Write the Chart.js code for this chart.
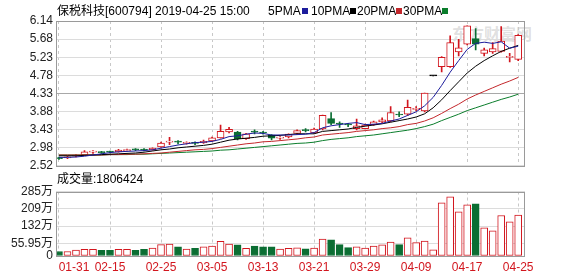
<!DOCTYPE html>
<html>
<head>
<meta charset="utf-8">
<script src="https://cdn.jsdelivr.net/npm/chart.js@4.4.1/dist/chart.umd.min.js"></script>
<style>
  body { margin: 0; background: #fff; width: 578px; height: 276px; overflow: hidden; position: relative;
         font-family: "Liberation Sans", Arial, "Noto Sans CJK SC", sans-serif; }
  canvas { position: absolute; left: 0; }
  #kline { top: 0; }
  #vol { top: 176px; }
  .txt { position: absolute; font-size: 12px; line-height: 14px; color: #000; white-space: nowrap; }
  .sq { position: absolute; width: 6px; height: 6px; }
  .wm { position: absolute; left: 452px; top: 21px; font: bold 16px "Noto Sans CJK SC", sans-serif; color: rgba(150,150,150,0.3); white-space: nowrap; }
</style>
</head>
<body>
<div class="wm">东方财富网</div>
<canvas id="kline" width="578" height="176"></canvas>
<canvas id="vol" width="578" height="100"></canvas>
<div class="txt" style="left:57px;top:4px;">保税科技[600794] 2019-04-25 15:00</div>
<div class="txt" style="left:268px;top:4px;">5PMA</div><div class="sq" style="left:302px;top:8px;background:#1c1c9c;"></div>
<div class="txt" style="left:311px;top:4px;">10PMA</div><div class="sq" style="left:350px;top:8px;background:#000;"></div>
<div class="txt" style="left:357px;top:4px;">20PMA</div><div class="sq" style="left:396px;top:8px;background:#c3272b;"></div>
<div class="txt" style="left:403px;top:4px;">30PMA</div><div class="sq" style="left:442px;top:8px;background:#0a7d2b;"></div>
<div class="txt" style="left:57px;top:172px;">成交量:1806424</div>
<script>
// trading days shown
var dates = ['01-31','02-01','02-11','02-12','02-13','02-14','02-15','02-18','02-19','02-20',
             '02-21','02-22','02-25','02-26','02-27','02-28','03-01','03-04','03-05','03-06',
             '03-07','03-08','03-11','03-12','03-13','03-14','03-15','03-18','03-19','03-20',
             '03-21','03-22','03-25','03-26','03-27','03-28','03-29','04-01','04-02','04-03',
             '04-04','04-08','04-09','04-10','04-11','04-12','04-15','04-16','04-17','04-18',
             '04-19','04-22','04-23','04-24','04-25'];

var opens  = [2.72,2.72,2.76,2.79,2.86,2.87,2.87,2.87,2.90,2.93, 2.93,2.92,2.99,3.11,3.12,3.08,3.10,3.10,3.14,3.22,
              3.37,3.36,3.20,3.38,3.36,3.29,3.21,3.24,3.33,3.41, 3.34,3.44,3.70,3.57,3.55,3.45,3.45,3.55,3.62,3.64,
              3.80,3.81,3.93,3.89,4.77,5.00,5.00,5.37,5.56,5.70, 5.33,5.37,5.38,5.23,5.18];
var highs  = [2.74,2.76,2.80,2.90,2.90,2.88,2.89,2.93,2.94,2.95, 2.95,2.97,3.11,3.23,3.15,3.12,3.12,3.16,3.24,3.54,
              3.48,3.38,3.33,3.42,3.38,3.30,3.25,3.32,3.42,3.45, 3.46,3.79,3.85,3.62,3.58,3.69,3.56,3.64,3.72,4.00,
              3.87,4.16,4.00,4.34,4.77,5.25,5.77,5.68,6.02,5.95, 5.46,5.60,6.00,5.33,5.80];
var lows   = [2.68,2.70,2.74,2.78,2.83,2.83,2.84,2.86,2.89,2.90, 2.89,2.91,2.98,3.05,3.07,3.06,3.05,3.08,3.13,3.21,
              3.34,3.17,3.18,3.32,3.31,3.17,3.18,3.22,3.30,3.37, 3.33,3.42,3.55,3.48,3.50,3.42,3.44,3.53,3.60,3.62,
              3.75,3.78,3.90,3.87,4.77,4.87,4.98,5.27,5.54,5.42, 5.27,5.33,5.36,5.12,5.15];
var closes = [2.70,2.74,2.79,2.87,2.87,2.85,2.86,2.91,2.92,2.92, 2.91,2.96,3.09,3.12,3.11,3.09,3.08,3.13,3.22,3.38,
              3.43,3.20,3.32,3.36,3.34,3.21,3.22,3.31,3.40,3.40, 3.44,3.78,3.58,3.56,3.54,3.52,3.54,3.62,3.67,3.85,
              3.79,3.98,3.94,4.34,4.77,5.23,5.60,5.47,6.02,5.56, 5.42,5.45,5.64,5.24,5.78];

var ma5  = [2.73,2.73,2.74,2.76,2.79,2.82,2.85,2.87,2.88,2.89, 2.90,2.92,2.96,3.00,3.04,3.07,3.10,3.11,3.13,3.18,
            3.25,3.27,3.31,3.34,3.33,3.29,3.29,3.29,3.30,3.31, 3.35,3.47,3.52,3.55,3.58,3.60,3.55,3.56,3.58,3.64,
            3.69,3.78,3.87,4.02,4.23,4.53,4.86,5.15,5.43,5.58, 5.61,5.58,5.62,5.46,5.51];
var ma10 = [2.77,2.77,2.77,2.78,2.79,2.80,2.81,2.82,2.83,2.84, 2.86,2.89,2.92,2.94,2.97,2.99,3.01,3.03,3.06,3.11,
            3.16,3.19,3.21,3.23,3.26,3.27,3.28,3.30,3.32,3.32, 3.32,3.38,3.40,3.42,3.44,3.48,3.51,3.54,3.57,3.61,
            3.65,3.69,3.74,3.82,3.97,4.17,4.40,4.62,4.84,5.01, 5.15,5.27,5.38,5.46,5.53];
var ma20 = [2.79,2.79,2.79,2.79,2.79,2.79,2.80,2.80,2.81,2.81, 2.82,2.83,2.84,2.86,2.88,2.90,2.92,2.93,2.95,2.98,
            3.01,3.04,3.07,3.09,3.12,3.13,3.15,3.17,3.19,3.22, 3.24,3.29,3.31,3.33,3.35,3.38,3.40,3.42,3.45,3.47,
            3.50,3.55,3.58,3.64,3.72,3.83,3.95,4.06,4.19,4.29, 4.38,4.47,4.56,4.64,4.73];
var ma30 = [2.79,2.79,2.79,2.79,2.79,2.79,2.80,2.80,2.80,2.81, 2.81,2.82,2.83,2.84,2.85,2.86,2.87,2.88,2.89,2.91,
            2.92,2.94,2.96,2.98,3.00,3.02,3.04,3.06,3.08,3.09, 3.11,3.15,3.18,3.20,3.22,3.25,3.27,3.29,3.32,3.35,
            3.38,3.41,3.45,3.50,3.56,3.65,3.73,3.81,3.90,3.97, 4.04,4.11,4.18,4.24,4.31];

// volume in 万
var volumes = [20,20,26,30,30,25,25,30,30,25, 30,35,50,53,40,31,34,41,44,65,
               53,49,34,44,40,40,31,34,36,32, 35,75,71,50,37,40,35,44,49,62,
               50,80,59,66,27,235,261,195,226,230, 124,111,179,151,180.6424];

var priceMin = 2.52, priceMax = 6.14;
var priceTickLabels = ['2.52','2.98','3.43','3.88','4.33','4.78','5.23','5.68','6.14'];
var volTickValues = [0, 55.95, 132, 209, 285];
var volTickLabels = ['0','55.95万','132万','209万','285万'];

var RED = '#d2161e', GREEN = '#0b6e33', GRID = '#dcdcdc', FRAME = '#9a9a9a';
var FONT = {family: '"Liberation Sans", Arial, "Noto Sans CJK SC", sans-serif', size: 12};

Chart.defaults.animation = false;
Chart.defaults.font = FONT;

var framePlugin = {
  id: 'frame',
  afterDraw: function(chart) {
    var a = chart.chartArea, ctx = chart.ctx;
    ctx.save();
    ctx.strokeStyle = FRAME;
    ctx.lineWidth = 1;
    ctx.strokeRect(Math.round(a.left) + 0.5, Math.round(a.top) + 0.5,
                   Math.round(a.right) - Math.round(a.left) - 1, Math.round(a.bottom) - Math.round(a.top));
    ctx.restore();
  }
};

function pts(arr) { return arr.map(function(v, i) { return {x: i, y: v}; }); }
function candleColor(i) {
  if (opens[i] === closes[i]) return '#000';
  return closes[i] > opens[i] ? RED : GREEN;
}

var gridTicks = dates.map(function(d, i) { return i; }).filter(function(i) { return i % 6 === 0; });

var xCommon = {
  type: 'linear', min: -0.35, max: 54.8, offset: false,
  afterBuildTicks: function(s) { s.ticks = gridTicks.map(function(v) { return {value: v}; }); },
  grid: {color: '#c8c8c8', drawTicks: false, offset: false},
  border: {display: false, dash: [3, 3]}
};

function maLine(label, arr, color) {
  return {type: 'line', label: label, data: pts(arr), borderColor: color, borderWidth: 1,
          pointRadius: 0, tension: 0, order: 1};
}

new Chart(document.getElementById('kline'), {
  type: 'bar',
  data: {
    datasets: [
      {
        label: 'wick',
        data: dates.map(function(d, i) { return {x: i, y: [lows[i], highs[i]]}; }),
        backgroundColor: dates.map(function(d, i) { return candleColor(i); }),
        barThickness: 1, grouped: false, order: 3
      },
      {
        label: 'body',
        data: dates.map(function(d, i) { return {x: i, y: [opens[i], closes[i]]}; }),
        backgroundColor: dates.map(function(d, i) { return closes[i] > opens[i] ? '#fff' : candleColor(i); }),
        borderColor: dates.map(function(d, i) { return candleColor(i); }),
        borderWidth: 1, borderSkipped: false, minBarLength: 1,
        barThickness: 7, grouped: false, order: 2
      },
      maLine('5PMA', ma5, '#1c1c9c'),
      maLine('10PMA', ma10, '#000'),
      maLine('20PMA', ma20, '#c3272b'),
      maLine('30PMA', ma30, '#0a7d2b')
    ]
  },
  options: {
    responsive: false,
    layout: {padding: {top: 21, right: 53, bottom: 9, left: 0}},
    plugins: {legend: {display: false}, tooltip: {enabled: false}},
    scales: {
      x: Object.assign({}, xCommon, {
        ticks: {display: false},
        afterFit: function(s) { s.height = 0; }
      }),
      y: {
        min: priceMin, max: priceMax,
        afterBuildTicks: function(s) {
          s.ticks = priceTickLabels.map(function(t, i) {
            return {value: priceMin + i * (priceMax - priceMin) / (priceTickLabels.length - 1)};
          });
        },
        afterFit: function(s) { s.width = 56; },
        ticks: {
          padding: 3, color: '#222', autoSkip: false,
          callback: function(v, i) { return priceTickLabels[i]; }
        },
        grid: {
          drawTicks: false,
          color: function(c) { return c.index === 4 ? '#a8a8a8' : GRID; }
        },
        border: {display: false}
      }
    }
  },
  plugins: [framePlugin]
});

new Chart(document.getElementById('vol'), {
  type: 'bar',
  data: {
    datasets: [{
      label: '成交量',
      data: pts(volumes),
      backgroundColor: volumes.map(function(v, i) { return closes[i] >= opens[i] ? '#fff' : GREEN; }),
      borderColor: volumes.map(function(v, i) { return closes[i] >= opens[i] ? RED : GREEN; }),
      borderWidth: 1, borderSkipped: false, barThickness: 7, grouped: false
    }]
  },
  options: {
    responsive: false,
    layout: {padding: {top: 15.5, right: 53, bottom: 0, left: 0}},
    plugins: {legend: {display: false}, tooltip: {enabled: false}},
    scales: {
      x: Object.assign({}, xCommon, {
        ticks: {
          color: RED, padding: 4, autoSkip: false, maxRotation: 0,
          callback: function(v) { return v === 0 ? '         ' + dates[v] : dates[v]; }
        },
        afterFit: function(s) { s.height = 20; }
      }),
      y: {
        min: 0, max: 285,
        afterBuildTicks: function(s) { s.ticks = volTickValues.map(function(v) { return {value: v}; }); },
        afterFit: function(s) { s.width = 56; },
        ticks: {
          padding: 3, color: '#222', autoSkip: false,
          callback: function(v, i) { return volTickLabels[i]; }
        },
        grid: {drawTicks: false, color: GRID},
        border: {display: false}
      }
    }
  },
  plugins: [framePlugin]
});
</script>
</body>
</html>
